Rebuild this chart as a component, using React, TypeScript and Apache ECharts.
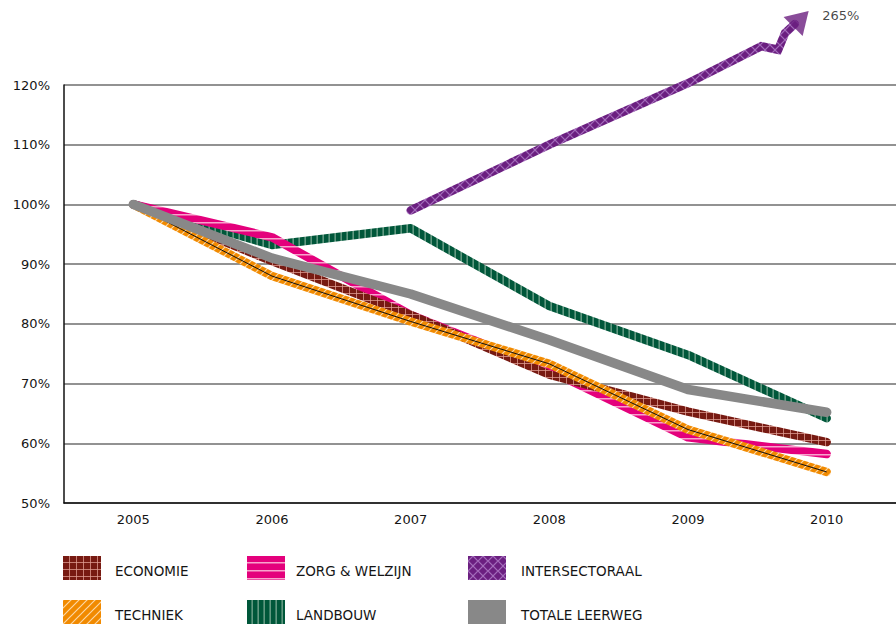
import React, { useEffect, useRef } from "react";
import * as echarts from "echarts";

const years = ["2005", "2006", "2007", "2008", "2009", "2010"];
const economie = [100, 90.5, 81.5, 71.5, 65.3, 60.2];
const zorg = [100, 94.5, 81.5, 72.2, 61, 58.2];
const techniek = [100, 88, 80.4, 73.3, 62.3, 55.2];
const landbouw = [100, 93.2, 96, 83, 74.8, 64.2];
const totaal = [100, 91, 85, 77.3, 69, 65.2];
// intersectoraal starts in 2007; the trailing points form the broken arrow towards 265%
const interX = [2, 3, 4, 4.529, 4.65, 4.7, 4.77];
const interY = [99, 110, 120.3, 126.5, 125.9, 128.7, 130.2];
const interArrow = [4.814, 131.1];
const interLabel = "265%";
const yTicks = { min: 50, max: 120, interval: 10 };
const legendNames = ["ECONOMIE", "ZORG & WELZIJN", "INTERSECTORAAL", "TECHNIEK", "LANDBOUW", "TOTALE LEERWEG"];

function tile(w: number, h: number, base: string, draw: (c: CanvasRenderingContext2D) => void) {
  const cv = document.createElement("canvas");
  cv.width = w;
  cv.height = h;
  const c = cv.getContext("2d")!;
  c.fillStyle = base;
  c.fillRect(0, 0, w, h);
  draw(c);
  return { image: cv.toDataURL(), repeat: "repeat", imageWidth: w, imageHeight: h } as any;
}

export default function App() {
  const ref = useRef<HTMLDivElement>(null);
  useEffect(() => {
    const pEco = tile(7, 7, "#771a12", (c) => {
      c.strokeStyle = "rgba(225,160,150,0.75)";
      c.lineWidth = 1;
      c.beginPath();
      c.moveTo(6.5, 0); c.lineTo(6.5, 7);
      c.moveTo(0, 6.5); c.lineTo(7, 6.5);
      c.stroke();
    });
    const pZorg = tile(8, 8, "#e4007c", (c) => {
      c.fillStyle = "#f7a3cc";
      c.fillRect(0, 6, 8, 1.5);
    });
    const pInter = tile(10, 10, "#6b1f80", (c) => {
      c.strokeStyle = "#a36cba";
      c.lineWidth = 1.2;
      c.beginPath();
      c.moveTo(0, 5); c.lineTo(5, 0); c.lineTo(10, 5); c.lineTo(5, 10); c.closePath();
      c.stroke();
    });
    const pTech = tile(8, 8, "#f18a00", (c) => {
      c.strokeStyle = "#fcd7a4";
      c.lineWidth = 1.2;
      c.beginPath();
      c.moveTo(0, 8); c.lineTo(8, 0);
      c.moveTo(-1, 1); c.lineTo(1, -1);
      c.moveTo(7, 9); c.lineTo(9, 7);
      c.stroke();
    });
    const pLand = tile(6, 6, "#00573a", (c) => {
      c.fillStyle = "#79a892";
      c.fillRect(4.5, 0, 1.3, 6);
    });
    const grey = "#888888";

    const chart = echarts.init(ref.current!, null, { renderer: "svg" });
    const font = "'DejaVu Sans', 'Noto Sans', sans-serif";
    const line = (name: string, vals: number[], color: any, width: number, z: number) => ({
      type: "line",
      name,
      xAxisIndex: 1,
      data: vals.map((v, i) => [i, v]),
      symbol: "none",
      clip: false,
      z,
      lineStyle: { color, width, cap: "round", join: "round" },
    });

    const legendPatterns = [pEco, pZorg, pInter, pTech, pLand, grey];
    const colX = [63, 247, 468];
    const textX = [115, 296, 521];
    const rowY = [556, 600];
    const graphic: any[] = [];
    legendNames.forEach((n, i) => {
      const col = i % 3;
      const row = Math.floor(i / 3);
      graphic.push({
        type: "rect",
        left: colX[col],
        top: rowY[row],
        shape: { width: 38, height: 24 },
        style: { fill: legendPatterns[i] },
      });
      graphic.push({
        type: "text",
        left: textX[col],
        top: rowY[row] + 8,
        style: { text: n, fill: "#151515", font: `13.5px ${font}` },
      });
    });

    chart.setOption({
      animation: false,
      grid: { left: 64, top: 85, width: 840, height: 418 },
      xAxis: [
        {
          type: "category",
          data: years,
          boundaryGap: true,
          axisLine: { lineStyle: { color: "#111", width: 1.5 } },
          axisTick: { inside: true, length: 10, lineStyle: { color: "#333" } },
          axisLabel: { color: "#151515", fontSize: 13, fontFamily: font, margin: 10 },
          splitLine: { show: false },
        },
        { type: "value", min: -0.5, max: 5.5, show: false },
      ],
      yAxis: {
        type: "value",
        min: yTicks.min,
        max: yTicks.max,
        interval: yTicks.interval,
        axisLine: { show: true, onZero: false, lineStyle: { color: "#111", width: 1.5 } },
        axisTick: { show: false },
        axisLabel: { formatter: "{value}%", color: "#151515", fontSize: 13, fontFamily: font, margin: 14 },
        splitLine: { lineStyle: { color: "#6e6e6e", width: 1.5 } },
      },
      series: [
        line("Landbouw", landbouw, pLand, 8.5, 2),
        line("Zorg & Welzijn", zorg, pZorg, 8.5, 3),
        line("Economie", economie, pEco, 8.5, 4),
        line("Techniek", techniek, pTech, 8.5, 5),
        {
          type: "line",
          name: "Techniek kern",
          xAxisIndex: 1,
          data: techniek.map((v, i) => [i, v]),
          symbol: "none",
          clip: false,
          z: 5,
          lineStyle: { color: "#111", width: 1 },
        },
        {
          type: "line",
          name: "Intersectoraal",
          xAxisIndex: 1,
          data: interX.map((x, i) => [x, interY[i]]),
          symbol: "none",
          clip: false,
          z: 6,
          lineStyle: { color: pInter, width: 8.5, cap: "round", join: "miter" },
        },
        {
          type: "scatter",
          name: "Intersectoraal pijl",
          xAxisIndex: 1,
          data: [interArrow],
          symbol: "triangle",
          symbolSize: [27, 22],
          symbolRotate: -45,
          clip: false,
          z: 6,
          itemStyle: { color: pInter },
          label: {
            show: true,
            position: "right",
            distance: 4,
            formatter: interLabel,
            color: "#151515",
            fontSize: 13,
            fontFamily: font,
            offset: [0, -3],
          },
        },
        line("Totale leerweg", totaal, grey, 9.5, 7),
      ],
      graphic,
    });
    return () => chart.dispose();
  }, []);
  return (
    <div
      ref={ref}
      style={{ position: "fixed", left: 0, top: 0, width: 896, height: 628, background: "#fff" }}
    />
  );
}
